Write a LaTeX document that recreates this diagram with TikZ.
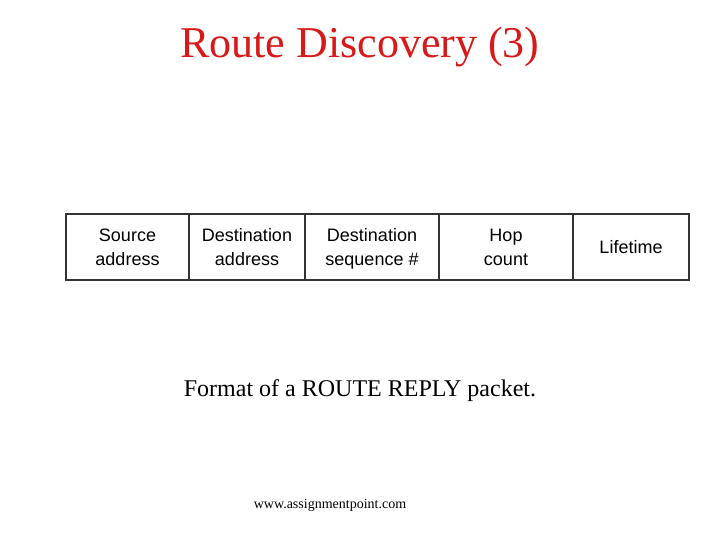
\documentclass[tikz,border=0pt]{standalone}
\usepackage{fontspec}
\setmainfont{Liberation Serif}
\newfontfamily\fieldfont{Liberation Sans}
\usetikzlibrary{positioning}
\definecolor{titlered}{RGB}{215,25,25}
\newcommand\fieldstrut{\rule[-2pt]{0pt}{14pt}}

\begin{document}
\begin{tikzpicture}[x=0.75pt,y=-0.75pt]
\tikzset{field/.style={draw=black!80, line width=0.9pt, minimum height=49.5pt, inner sep=0pt, outer sep=0pt, align=center, font=\fieldfont\fontsize{13.5}{18}\selectfont}}
\useasboundingbox (0,0) rectangle (720,540);
\node[text=titlered, font=\fontsize{33}{36}\selectfont] (title) at (360,47) {Route Discovery (3)};

% packet fields
\node[field, minimum width=92.25pt, anchor=north west] (src) at (66,214) {Source\fieldstrut\\address\fieldstrut};
\node[field, minimum width=87pt, right=0pt of src] (dst) {Destination\fieldstrut\\address\fieldstrut};
\node[field, minimum width=100.5pt, right=0pt of dst] (seq) {Destination\fieldstrut\\sequence \#\fieldstrut};
\node[field, minimum width=100.5pt, right=0pt of seq] (hop) {Hop\fieldstrut\\count\fieldstrut};
\node[field, minimum width=87pt, right=0pt of hop] (life) {Lifetime\fieldstrut};

\node[font=\fontsize{18}{22}\selectfont] (caption) at (360,391) {Format of a ROUTE REPLY packet.};
\node[font=\fontsize{10.5}{12}\selectfont] (site) at (330,505) {www.assignmentpoint.com};
\end{tikzpicture}
\end{document}
